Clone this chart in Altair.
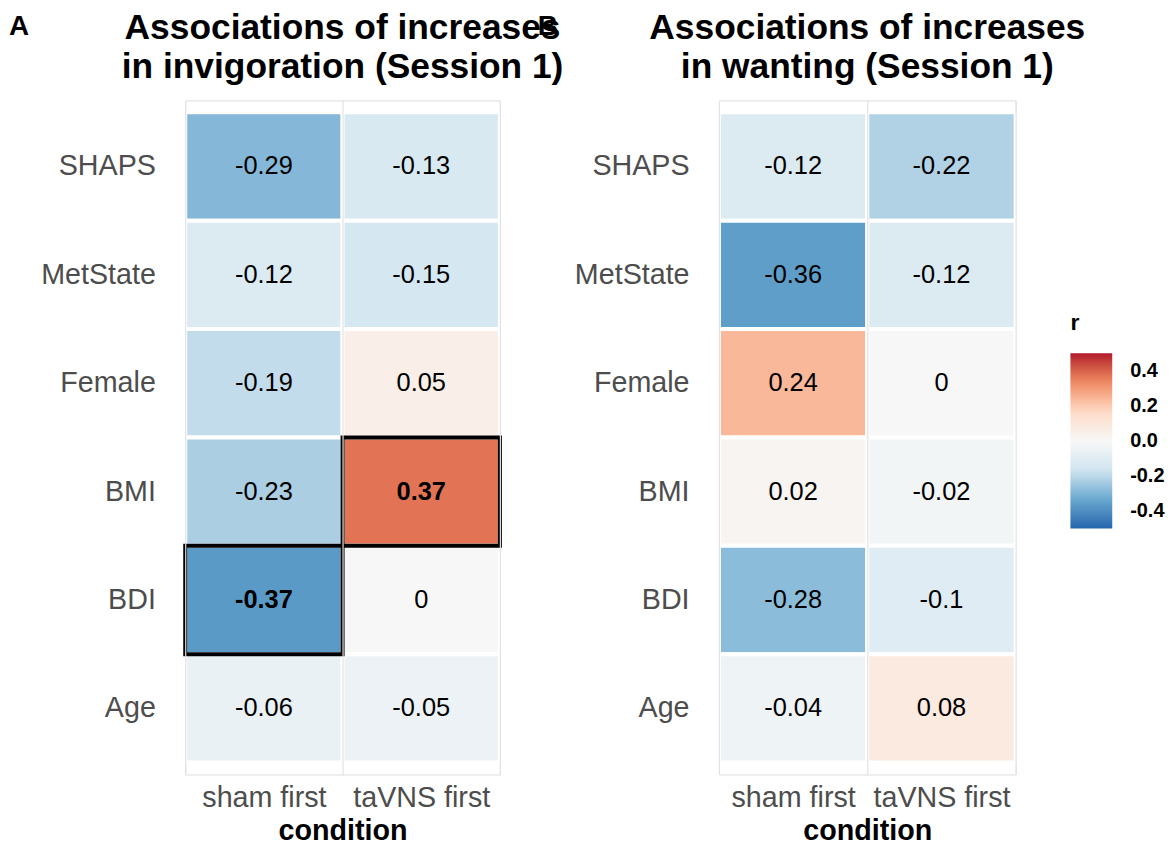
import altair as alt
import pandas as pd

variables = ["SHAPS", "MetState", "Female", "BMI", "BDI", "Age"]
conditions = ["sham first", "taVNS first"]

inv_sham = [-0.29, -0.12, -0.19, -0.23, -0.37, -0.06]
inv_tavns = [-0.13, -0.15, 0.05, 0.37, 0, -0.05]
inv_sig_sham = [False, False, False, False, True, False]
inv_sig_tavns = [False, False, False, True, False, False]

want_sham = [-0.12, -0.36, 0.24, 0.02, -0.28, -0.04]
want_tavns = [-0.22, -0.12, 0, -0.02, -0.1, 0.08]
want_sig_sham = [False] * 6
want_sig_tavns = [False] * 6

title_a = ["Associations of increases", "in invigoration (Session 1)"]
title_b = ["Associations of increases", "in wanting (Session 1)"]

legend_values = [-0.4, -0.2, 0.0, 0.2, 0.4]
palette = ["#2166ac", "#67a9cf", "#d1e5f0", "#f7f7f7", "#fddbc7", "#ef8a62", "#b2182b"]
palette_domain = [-0.5, -1 / 3, -1 / 6, 0, 1 / 6, 1 / 3, 0.5]

FONT = "Liberation Sans"
AXIS_FS = 28.8
CELL_FS = 25.5
TITLE_FS = 35.5
PLOT_H = 677


def make_df(sham, tavns, sig_sham, sig_tavns):
    recs = []
    for i, v in enumerate(variables):
        recs.append({"variable": v, "condition": conditions[0], "r": sham[i], "sig": sig_sham[i]})
        recs.append({"variable": v, "condition": conditions[1], "r": tavns[i], "sig": sig_tavns[i]})
    df = pd.DataFrame(recs)
    df["label"] = df["r"].map(lambda x: f"{x:g}")
    return df


def panel(df, title_lines, width, legend, letters=None):
    base = alt.Chart(df).encode(
        x=alt.X(
            "condition:N",
            sort=conditions,
            title="condition",
            scale=alt.Scale(paddingInner=0, paddingOuter=0),
            axis=alt.Axis(
                labelAngle=0, labelFontSize=AXIS_FS, labelColor="#4d4d4d", labelFont=FONT,
                titleFontSize=AXIS_FS, titleFontWeight="bold", titleColor="black", titleFont=FONT,
                domain=False, ticks=False, grid=True, gridColor="#e3e3e3", gridWidth=1.2,
                tickBand="extent", labelPadding=9, titlePadding=4,
            ),
        ),
        y=alt.Y(
            "variable:N",
            sort=variables,
            title=None,
            scale=alt.Scale(paddingInner=0, paddingOuter=0.11),
            axis=alt.Axis(
                labelFontSize=AXIS_FS, labelColor="#4d4d4d", labelFont=FONT,
                domain=False, ticks=False, grid=False, labelPadding=30,
            ),
        ),
    )
    color_kwargs = dict(
        scale=alt.Scale(domain=palette_domain, range=palette, interpolate="lab"),
    )
    if legend:
        color = alt.Color(
            "r:Q",
            legend=alt.Legend(
                title="r", orient="none", legendX=353, legendY=213, direction="vertical",
                values=legend_values,
                labelExpr="datum.value < 0 ? '-' + format(-datum.value, '.1f') : format(datum.value, '.1f')",
                gradientLength=176, gradientThickness=42,
                labelFontSize=20, labelFontWeight="bold", labelColor="black", labelFont=FONT,
                labelOffset=18,
                titleFontSize=23, titleFontWeight="bold", titleColor="black", titleFont=FONT,
                titlePadding=18, labelOverlap=False, gradientStrokeWidth=0,
            ),
            **color_kwargs,
        )
    else:
        color = alt.Color("r:Q", legend=None, **color_kwargs)

    tiles = base.mark_rect(stroke="white", strokeWidth=4).encode(color=color)
    txt = base.transform_filter("!datum.sig").mark_text(
        fontSize=CELL_FS, font=FONT, color="black"
    ).encode(text="label:N")
    txt_b = base.transform_filter("datum.sig").mark_text(
        fontSize=CELL_FS, font=FONT, color="black", fontWeight="bold"
    ).encode(text="label:N")
    outline = base.transform_filter("datum.sig").mark_rect(
        fillOpacity=0, stroke="black", strokeWidth=4
    )
    title_mark = alt.Chart(pd.DataFrame({"t": [0]})).mark_text(
        text=title_lines, fontSize=TITLE_FS, fontWeight="bold", font=FONT, color="black",
        align="center", baseline="alphabetic", lineHeight=39,
    ).encode(x=alt.value(width / 2), y=alt.value(-62))
    layers = [tiles, txt, txt_b, outline, title_mark]
    if letters is not None:
        for letter, lx in letters:
            layers.append(
                alt.Chart(pd.DataFrame({"t": [letter]})).mark_text(
                    fontSize=28, fontWeight="bold", font=FONT, align="left",
                    baseline="alphabetic", color="black"
                ).encode(text="t:N", x=alt.value(lx), y=alt.value(-66))
            )
    return alt.layer(*layers).properties(width=width, height=PLOT_H)


df_a = make_df(inv_sham, inv_tavns, inv_sig_sham, inv_sig_tavns)
df_b = make_df(want_sham, want_tavns, want_sig_sham, want_sig_tavns)

pa = panel(df_a, title_a, 316, False, letters=[("A", -177), ("B", 354)])
pb = panel(df_b, title_b, 298, True)

chart = alt.hconcat(pa, pb, spacing=9).resolve_scale(color="independent").properties(
    padding={"left": 0, "top": 0, "right": 2, "bottom": 0}
).configure_view(stroke="transparent").configure(font=FONT)

chart.save("out.html", embed_options={"renderer": "svg", "actions": False})
